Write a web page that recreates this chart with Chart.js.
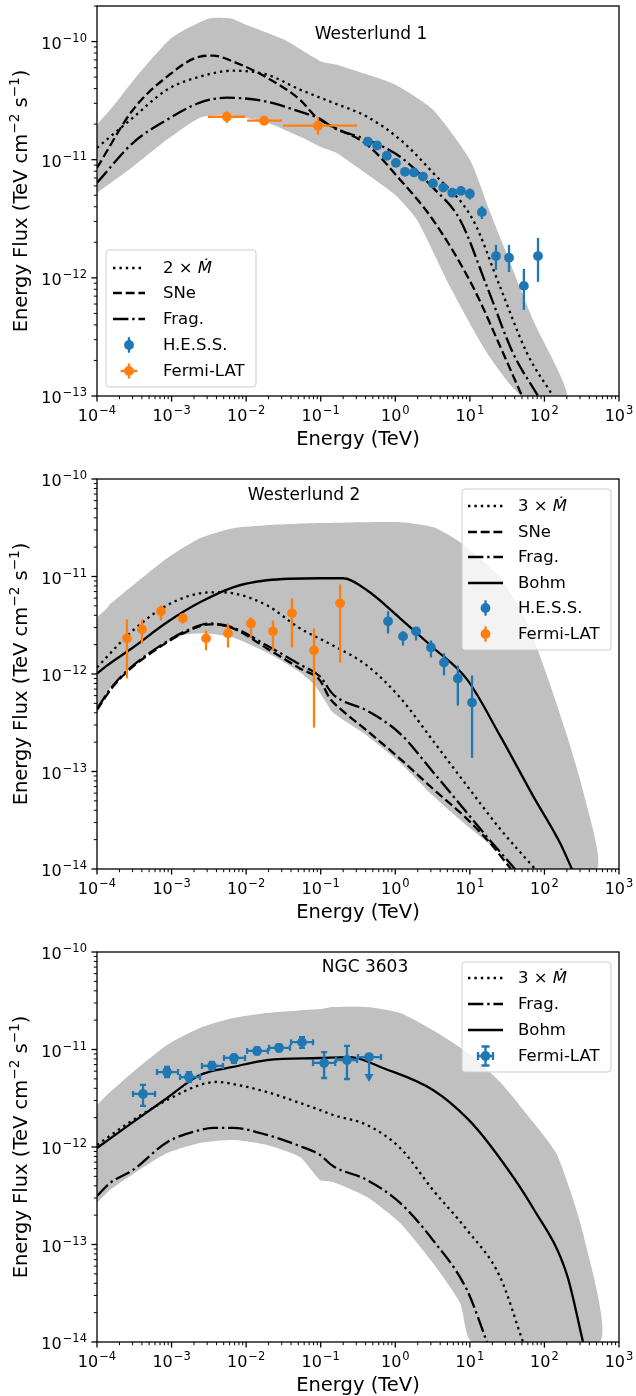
<!DOCTYPE html>
<html>
<head>
<meta charset="utf-8">
<title>Cluster gamma-ray spectra</title>
<script src="https://cdn.jsdelivr.net/npm/chart.js@4.4.1/dist/chart.umd.min.js"></script>
<style>
  html, body { margin: 0; padding: 0; background: #fff; }
  .panel { position: absolute; left: 0; }
</style>
</head>
<body>
<canvas id="wd1" class="panel" width="636" height="473" style="top:0"></canvas>
<canvas id="wd2" class="panel" width="636" height="493" style="top:453px"></canvas>
<canvas id="ngc" class="panel" width="636" height="470" style="top:926px"></canvas>
<script>
// ---------- tick labels (exponents of the decades) and texts ----------
const xTickExp = [-4, -3, -2, -1, 0, 1, 2, 3];
const wd1YTickExp = [-13, -12, -11, -10];
const wd2YTickExp = [-14, -13, -12, -11, -10];
const ngcYTickExp = [-14, -13, -12, -11, -10];

const panelTitles = ['Westerlund 1', 'Westerlund 2', 'NGC 3603'];
const xTitle = 'Energy (TeV)';
const wd1Legend = ['2 \u00d7 \u1e40', 'SNe', 'Frag.', 'H.E.S.S.', 'Fermi-LAT'];
const wd2Legend = ['3 \u00d7 \u1e40', 'SNe', 'Frag.', 'Bohm', 'H.E.S.S.', 'Fermi-LAT'];
const ngcLegend = ['3 \u00d7 \u1e40', 'Frag.', 'Bohm', 'Fermi-LAT'];

// ---------- Westerlund 1 ----------
const wd1BandUpperE = [1e-4, 1.59e-4, 3.13e-4, 1.01e-3, 3.18e-3, 6.27e-3, 9.96e-3, 3.22e-2, 0.101, 0.160, 0.316, 0.99, 3.2, 10, 18.6, 29.6, 70.3, 201];
const wd1BandUpperF = [1.98e-11, 2.76e-11, 4.76e-11, 1.08e-10, 1.57e-10, 1.57e-10, 1.39e-10, 1.04e-10, 6.78e-11, 6.38e-11, 5.57e-11, 4.33e-11, 2.65e-11, 1.0e-11, 3.62e-12, 1.73e-12, 4.4e-13, 1e-13];
const wd1BandLowerE = [1e-4, 3.04e-4, 8.7e-4, 2.4e-3, 5.5e-3, 1.9e-2, 5.27e-2, 9.8e-2, 0.160, 0.316, 0.99, 1.95, 5.42, 17.0, 50];
const wd1BandLowerF = [5.25e-12, 8.73e-12, 1.48e-11, 2.27e-11, 2.4e-11, 2.06e-11, 1.57e-11, 1.29e-11, 1.15e-11, 8.55e-12, 5.05e-12, 3.1e-12, 8.4e-13, 2.31e-13, 1e-13];

const wd1DottedE = [1e-4, 3.04e-4, 8.7e-4, 2.4e-3, 6.67e-3, 1.9e-2, 5.27e-2, 0.146, 0.418, 1.16, 3.2, 11.0, 25.4, 58.3, 130];
const wd1DottedF = [1.26e-11, 2.27e-11, 3.92e-11, 5.05e-11, 5.67e-11, 5.25e-11, 3.92e-11, 3.04e-11, 2.31e-11, 1.48e-11, 7.76e-12, 3.1e-12, 8.4e-13, 2.31e-13, 1e-13];
const wd1DashedE = [1e-4, 3.04e-4, 8.7e-4, 2.4e-3, 3.6e-3, 6.67e-3, 1.9e-2, 5.27e-2, 8.9e-2, 0.146, 0.418, 1.16, 3.2, 11.0, 27.9, 50];
const wd1DashedF = [8.55e-12, 2.65e-11, 5.05e-11, 7.46e-11, 7.6e-11, 6.78e-11, 4.95e-11, 3.22e-11, 2.27e-11, 1.9e-11, 1.34e-11, 6.78e-12, 3.1e-12, 8.4e-13, 2.31e-13, 1e-13];
const wd1DashDotE = [1e-4, 3.04e-4, 8.7e-4, 2.4e-3, 5.5e-3, 1.9e-2, 5.27e-2, 9.8e-2, 0.146, 0.418, 1.16, 3.2, 7.38, 17.0, 37.9, 82];
const wd1DashDotF = [6.38e-12, 1.39e-11, 2.18e-11, 3.04e-11, 3.35e-11, 3.1e-11, 2.55e-11, 2.22e-11, 1.87e-11, 1.48e-11, 1.06e-11, 5.8e-12, 3.1e-12, 8.4e-13, 2.31e-13, 1e-13];

const wd1HessE = [0.43, 0.57, 0.77, 1.02, 1.35, 1.78, 2.35, 3.2, 4.4, 5.8, 7.6, 10.0, 14.5, 22.4, 33.5, 53, 82];
const wd1HessF = [1.42e-11, 1.32e-11, 1.08e-11, 9.4e-12, 7.9e-12, 7.8e-12, 7.2e-12, 6.3e-12, 5.8e-12, 5.25e-12, 5.45e-12, 5.15e-12, 3.6e-12, 1.53e-12, 1.48e-12, 8.55e-13, 1.53e-12];
const wd1HessFLo = [1.36e-11, 1.27e-11, 1.04e-11, 9.0e-12, 7.55e-12, 7.4e-12, 6.8e-12, 5.9e-12, 5.4e-12, 4.85e-12, 5.0e-12, 4.6e-12, 3.15e-12, 1.17e-12, 1.12e-12, 5.36e-13, 9.25e-13];
const wd1HessFHi = [1.48e-11, 1.37e-11, 1.12e-11, 9.8e-12, 8.25e-12, 8.2e-12, 7.6e-12, 6.7e-12, 6.2e-12, 5.65e-12, 5.9e-12, 5.7e-12, 4.05e-12, 1.9e-12, 1.9e-12, 1.19e-12, 2.18e-12];

const wd1FermiE = [5.5e-3, 0.0174, 0.092];
const wd1FermiELo = [3.08e-3, 0.0103, 0.0312];
const wd1FermiEHi = [9.66e-3, 0.0303, 0.307];
const wd1FermiF = [2.31e-11, 2.14e-11, 1.94e-11];
const wd1FermiFLo = [2.05e-11, 1.95e-11, 1.63e-11];
const wd1FermiFHi = [2.55e-11, 2.35e-11, 2.27e-11];

// ---------- Westerlund 2 ----------
const wd2BandUpperE = [1e-4, 1.36e-4, 1.49e-4, 3.04e-4, 8.7e-4, 2.4e-3, 6.67e-3, 1.9e-2, 9.8e-2, 1.16, 3.2, 7.38, 25.4, 58.3, 108, 201, 329, 507];
const wd2BandUpperF = [3.81e-12, 4.72e-12, 5.19e-12, 8.13e-12, 1.54e-11, 2.47e-11, 3.13e-11, 3.36e-11, 3.53e-11, 3.61e-11, 3.21e-11, 2.25e-11, 9.82e-12, 3.39e-12, 9.66e-13, 2.33e-13, 6.34e-14, 1e-14];
const wd2BandLowerE = [1e-4, 1.64e-4, 5.14e-4, 1.42e-3, 3.0e-3, 6.67e-3, 1.9e-2, 5.27e-2, 8.38e-2, 0.114, 0.146, 0.418, 1.16, 3.2, 9.16, 25.4, 37.9];
const wd2BandLowerF = [3.84e-13, 7.98e-13, 1.66e-12, 2.49e-12, 2.61e-12, 2.37e-12, 1.66e-12, 1.04e-12, 7.62e-13, 5.34e-13, 4.02e-13, 2.33e-13, 1.23e-13, 5.63e-14, 2.77e-14, 1.46e-14, 1e-14];

const wd2DottedE = [1e-4, 3.04e-4, 8.7e-4, 2.4e-3, 4.06e-3, 6.67e-3, 1.9e-2, 5.27e-2, 0.146, 0.418, 1.16, 3.2, 9.16, 25.4, 74.8];
const wd2DottedF = [1.17e-12, 2.8e-12, 5.06e-12, 6.73e-12, 6.89e-12, 6.73e-12, 5.06e-12, 2.94e-12, 1.96e-12, 1.22e-12, 5.73e-13, 2.07e-13, 7.13e-14, 2.58e-14, 1e-14];
const wd2DashedE = [1e-4, 1.64e-4, 3.04e-4, 8.7e-4, 1.42e-3, 3.27e-3, 6.67e-3, 1.9e-2, 5.27e-2, 9.8e-2, 0.133, 0.182, 0.418, 1.16, 3.2, 9.16, 18.6, 35.6];
const wd2DashedF = [4.31e-13, 7.43e-13, 1.19e-12, 2.11e-12, 2.61e-12, 3.23e-12, 2.94e-12, 1.83e-12, 1.14e-12, 8.57e-13, 5.6e-13, 4.42e-13, 2.62e-13, 1.35e-13, 6.65e-14, 3.27e-14, 1.85e-14, 1e-14];
const wd2DashDotE = [1e-4, 1.64e-4, 3.04e-4, 8.7e-4, 1.42e-3, 3.27e-3, 6.67e-3, 1.9e-2, 5.27e-2, 9.8e-2, 0.146, 0.418, 1.16, 3.2, 9.16, 17.0, 40.3];
const wd2DashDotF = [4.42e-13, 7.62e-13, 1.22e-12, 2.16e-12, 2.67e-12, 3.3e-12, 3.0e-12, 1.96e-12, 1.25e-12, 9.42e-13, 6.2e-13, 4.21e-13, 2.45e-13, 9.9e-14, 3.77e-14, 2.13e-14, 1e-14];
const wd2SolidE = [1e-4, 1.36e-4, 3.04e-4, 8.7e-4, 2.4e-3, 6.67e-3, 1.9e-2, 9.8e-2, 0.199, 0.418, 1.16, 3.2, 9.16, 25.4, 70.3, 162, 234];
const wd2SolidF = [1.01e-12, 1.22e-12, 1.87e-12, 3.39e-12, 5.43e-12, 7.75e-12, 9.15e-12, 9.6e-12, 9.6e-12, 7.22e-12, 3.73e-12, 1.87e-12, 8.8e-13, 2.33e-13, 5.63e-14, 1.85e-14, 1e-14];

const wd2HessE = [0.80, 1.27, 1.90, 3.01, 4.5, 6.9, 10.7];
const wd2HessF = [3.47e-12, 2.43e-12, 2.74e-12, 1.87e-12, 1.31e-12, 9.0e-13, 5.09e-13];
const wd2HessFLo = [2.6e-12, 1.96e-12, 2.21e-12, 1.48e-12, 9.66e-13, 4.74e-13, 1.38e-13];
const wd2HessFHi = [4.4e-12, 2.74e-12, 3.0e-12, 2.21e-12, 1.63e-12, 1.22e-12, 9.66e-13];

const wd2FermiE = [2.52e-4, 4.01e-4, 7.21e-4, 1.42e-3, 2.9e-3, 5.71e-3, 0.0116, 0.0229, 0.0412, 0.0813, 0.182];
const wd2FermiF = [2.32e-12, 2.87e-12, 4.4e-12, 3.73e-12, 2.32e-12, 2.61e-12, 3.3e-12, 2.74e-12, 4.19e-12, 1.75e-12, 5.31e-12];
const wd2FermiFLo = [9.0e-13, 2.06e-12, 3.55e-12, 3.3e-12, 1.75e-12, 1.87e-12, 2.37e-12, 1.75e-12, 1.87e-12, 2.82e-13, 1.31e-12];
const wd2FermiFHi = [3.63e-12, 3.63e-12, 5.06e-12, 4.19e-12, 2.8e-12, 3.3e-12, 3.81e-12, 3.55e-12, 5.97e-12, 2.94e-12, 8.32e-12];

// ---------- NGC 3603 ----------
const ngcBandUpperE = [1e-4, 1.36e-4, 3.04e-4, 8.7e-4, 2.4e-3, 6.67e-3, 1.9e-2, 9.8e-2, 0.146, 0.418, 1.16, 3.2, 9.16, 25.4, 70.3, 148, 329, 556];
const ngcBandUpperF = [2.7e-12, 3.41e-12, 5.87e-12, 1.11e-11, 1.66e-11, 2.1e-11, 2.37e-11, 2.6e-11, 2.73e-11, 2.73e-11, 2.37e-11, 1.58e-11, 9.42e-12, 4.65e-12, 1.8e-12, 8.28e-13, 1.31e-13, 1e-14];
const ngcBandLowerE = [1e-4, 1.49e-4, 3.04e-4, 5.14e-4, 8.7e-4, 2.4e-3, 6.67e-3, 1.9e-2, 5.27e-2, 9.8e-2, 0.146, 0.418, 1.16, 3.2, 7.38, 10.7];
const ngcBandLowerF = [2.67e-13, 3.62e-13, 5.28e-13, 6.85e-13, 8.67e-13, 1.1e-12, 1.18e-12, 1.05e-12, 7.89e-13, 4.59e-13, 4.38e-13, 3.07e-13, 1.66e-13, 6.45e-14, 2.51e-14, 1e-14];

const ngcDottedE = [1e-4, 3.04e-4, 8.7e-4, 2.4e-3, 4.06e-3, 6.67e-3, 1.9e-2, 5.27e-2, 9.8e-2, 0.146, 0.418, 1.16, 3.2, 9.16, 25.4, 51.6];
const ngcDottedF = [1.05e-12, 1.89e-12, 3.03e-12, 4.33e-12, 4.65e-12, 4.43e-12, 3.66e-12, 2.83e-12, 2.39e-12, 2.13e-12, 1.68e-12, 9.77e-13, 3.62e-13, 1.41e-13, 4.65e-14, 1e-14];
const ngcDashDotE = [1e-4, 1.49e-4, 3.04e-4, 8.7e-4, 2.4e-3, 3.6e-3, 6.67e-3, 1.9e-2, 5.27e-2, 9.8e-2, 0.146, 0.418, 1.16, 3.2, 9.16, 17.0];
const ngcDashDotF = [3.14e-13, 4.27e-13, 5.81e-13, 1.12e-12, 1.49e-12, 1.57e-12, 1.57e-12, 1.33e-12, 1.02e-12, 8.28e-13, 6.38e-13, 4.59e-13, 2.67e-13, 1.11e-13, 3.41e-14, 1e-14];
const ngcSolidE = [1e-4, 3.04e-4, 8.7e-4, 2.4e-3, 6.67e-3, 1.9e-2, 9.8e-2, 0.247, 0.684, 3.2, 9.16, 18.6, 70.3, 201, 329];
const ngcSolidF = [9.77e-13, 1.8e-12, 3.18e-12, 5.47e-12, 6.62e-12, 7.8e-12, 8.18e-12, 8.37e-12, 6.46e-12, 3.85e-12, 1.98e-12, 1.05e-12, 2.37e-13, 4.86e-14, 1e-14];

const ngcFermiE = [4.14e-4, 8.69e-4, 1.71e-3, 3.48e-3, 6.87e-3, 0.0140, 0.0276, 0.0561, 0.111, 0.225, 0.445];
const ngcFermiELo = [3.04e-4, 6.38e-4, 1.30e-3, 2.56e-3, 5.05e-3, 0.0103, 0.0203, 0.040, 0.0789, 0.160, 0.316];
const ngcFermiEHi = [6.0e-4, 1.22e-3, 2.41e-3, 4.89e-3, 9.66e-3, 0.0196, 0.0387, 0.0789, 0.156, 0.307, 0.643];
const ngcFermiF = [3.5e-12, 5.87e-12, 5.22e-12, 6.78e-12, 8.19e-12, 9.66e-12, 1.04e-11, 1.19e-11, 7.28e-12, 7.8e-12, 8.37e-12];
const ngcFermiFLo = [2.64e-12, 5.22e-12, 4.65e-12, 6.17e-12, 7.28e-12, 8.9e-12, 9.6e-12, 1.04e-11, 5.1e-12, 4.98e-12, 4.65e-12];
const ngcFermiFHi = [4.33e-12, 6.62e-12, 5.87e-12, 7.45e-12, 8.79e-12, 1.05e-11, 1.13e-11, 1.34e-11, 9.42e-12, 1.09e-11, null];
const ngcFermiUpperLimit = [false, false, false, false, false, false, false, false, false, false, true];

// ---------- styles ----------
const BLUE = '#1f77b4';
const ORANGE = '#ff7f0e';
const BAND = '#c0c0c0';
const LW = 2.3;
const DOTTED = [2.4, 4];
const DASHED = [8.9, 3.8];
const DASHDOT = [15.4, 3.8, 2.4, 3.8];
const SOLID = [];
const FONT = '"DejaVu Sans", sans-serif';
const PLOT_H = 390;

function xy(E, F) {
  return E.map((e, i) => ({ x: e, y: F[i] }));
}

function band(uE, uF, lE, lF) {
  // closed outline: upper edge left to right, then lower edge back
  return {
    data: xy(uE, uF).concat(xy(lE, lF).reverse()),
    borderWidth: 0,
    borderColor: 'rgba(0,0,0,0)',
    backgroundColor: BAND,
    fill: 'shape',
    pointRadius: 0,
    tension: 0.2,
    order: 3
  };
}

function curve(E, F, dash) {
  return {
    data: xy(E, F),
    borderColor: '#000',
    borderWidth: LW,
    borderDash: dash,
    pointRadius: 0,
    fill: false,
    cubicInterpolationMode: 'monotone',
    order: 2
  };
}

function points(E, F, color, err) {
  return {
    data: xy(E, F),
    showLine: false,
    pointRadius: 4.9,
    pointHoverRadius: 4.9,
    pointBackgroundColor: color,
    pointBorderColor: color,
    pointBorderWidth: 0,
    order: 1,
    err: Object.assign({ color: color }, err)
  };
}

// error bars drawn just before the markers of their dataset
const errorBars = {
  id: 'errorBars',
  beforeDatasetDraw(chart, args) {
    const ds = chart.data.datasets[args.index];
    if (!ds.err) return;
    const e = ds.err;
    const { ctx, scales: { x, y } } = chart;
    ctx.save();
    ctx.strokeStyle = e.color;
    ctx.fillStyle = e.color;
    ctx.lineWidth = LW;
    ctx.setLineDash([]);
    const cap = e.cap || 0;
    ds.data.forEach((p, i) => {
      const px = x.getPixelForValue(p.x);
      const py = y.getPixelForValue(p.y);
      ctx.beginPath();
      if (e.xLo) {
        const a = x.getPixelForValue(e.xLo[i]), b = x.getPixelForValue(e.xHi[i]);
        ctx.moveTo(a, py); ctx.lineTo(b, py);
        if (cap) {
          ctx.moveTo(a, py - cap); ctx.lineTo(a, py + cap);
          ctx.moveTo(b, py - cap); ctx.lineTo(b, py + cap);
        }
      }
      if (e.ul && e.ul[i]) {
        const tip = y.getPixelForValue(e.yLo[i]);
        ctx.moveTo(px, py); ctx.lineTo(px, tip - 4);
        ctx.stroke();
        ctx.beginPath();
        ctx.moveTo(px - 4.5, tip - 8); ctx.lineTo(px + 4.5, tip - 8); ctx.lineTo(px, tip);
        ctx.closePath(); ctx.fill();
        return;
      }
      if (e.yLo && e.yLo[i] != null) {
        const a = y.getPixelForValue(e.yLo[i]), b = y.getPixelForValue(e.yHi[i]);
        ctx.moveTo(px, a); ctx.lineTo(px, b);
        if (cap) {
          ctx.moveTo(px - cap, a); ctx.lineTo(px + cap, a);
          ctx.moveTo(px - cap, b); ctx.lineTo(px + cap, b);
        }
      }
      ctx.stroke();
    });
    ctx.restore();
  }
};

function drawPow10(ctx, exp, x, y, align) {
  const base = '10';
  const sup = (exp < 0 ? '\u2212' : '') + Math.abs(exp);
  ctx.font = '16px ' + FONT;
  const wb = ctx.measureText(base).width;
  ctx.font = '11.5px ' + FONT;
  const ws = ctx.measureText(sup).width;
  const w = wb + ws + 1;
  const x0 = align === 'center' ? x - w / 2 : x - w;
  ctx.textAlign = 'left';
  ctx.textBaseline = 'alphabetic';
  ctx.font = '16px ' + FONT;
  ctx.fillText(base, x0, y);
  ctx.font = '11.5px ' + FONT;
  ctx.fillText(sup, x0 + wb + 1, y - 7);
}

function drawAxes(chart, yTickExp) {
  const { ctx, chartArea: a, scales: { x, y } } = chart;
  ctx.save();
  ctx.strokeStyle = '#000';
  ctx.fillStyle = '#000';
  ctx.setLineDash([]);
  // x ticks (major + minor, pointing out)
  for (let k = -4; k <= 2; k++) {
    for (let m = 1; m <= 9; m++) {
      const px = x.getPixelForValue(m * Number('1e' + k));
      ctx.lineWidth = m === 1 ? 1.3 : 1;
      ctx.beginPath(); ctx.moveTo(px, a.bottom); ctx.lineTo(px, a.bottom + (m === 1 ? 5.6 : 3.2)); ctx.stroke();
    }
  }
  ctx.lineWidth = 1.3;
  ctx.beginPath(); ctx.moveTo(a.right, a.bottom); ctx.lineTo(a.right, a.bottom + 5.6); ctx.stroke();
  // y ticks
  for (let k = -15; k <= -9; k++) {
    for (let m = 1; m <= 9; m++) {
      const v = m * Number('1e' + k);
      if (v < y.min * 0.999 || v > y.max * 1.001) continue;
      const py = y.getPixelForValue(v);
      ctx.lineWidth = m === 1 ? 1.3 : 1;
      ctx.beginPath(); ctx.moveTo(a.left, py); ctx.lineTo(a.left - (m === 1 ? 5.6 : 3.2), py); ctx.stroke();
    }
  }
  // frame
  ctx.lineWidth = 1.3;
  ctx.strokeRect(a.left, a.top, a.right - a.left, a.bottom - a.top);
  // tick labels
  xTickExp.forEach(k => drawPow10(ctx, k, x.getPixelForValue(Number('1e' + k)), a.bottom + 25, 'center'));
  yTickExp.forEach(k => drawPow10(ctx, k, a.left - 10, y.getPixelForValue(Number('1e' + k)) + 7, 'right'));
  // axis titles
  ctx.font = '19.5px ' + FONT;
  ctx.textAlign = 'center';
  ctx.fillText(xTitle, (a.left + a.right) / 2, a.bottom + 49);
  drawYTitle(ctx, 27, (a.top + a.bottom) / 2);
  ctx.restore();
}

function drawYTitle(ctx, bx, cy) {
  const parts = [['Energy Flux (TeV cm', false], ['\u22122', true], [' s', false], ['\u22121', true], [')', false]];
  const fontFor = s => (s ? '13.6px ' : '19.5px ') + FONT;
  let total = 0;
  parts.forEach(p => { ctx.font = fontFor(p[1]); total += ctx.measureText(p[0]).width; });
  ctx.save();
  ctx.translate(bx, cy);
  ctx.rotate(-Math.PI / 2);
  ctx.textAlign = 'left';
  ctx.textBaseline = 'alphabetic';
  let cx = -total / 2;
  parts.forEach(p => {
    ctx.font = fontFor(p[1]);
    ctx.fillText(p[0], cx, p[1] ? -8 : 0);
    cx += ctx.measureText(p[0]).width;
  });
  ctx.restore();
}

function drawLabel(ctx, text, x, y) {
  const i = text.indexOf('\u1e40');
  ctx.textAlign = 'left';
  ctx.textBaseline = 'middle';
  ctx.font = '16.5px ' + FONT;
  if (i < 0) { ctx.fillText(text, x, y); return; }
  const pre = text.slice(0, i);
  ctx.fillText(pre, x, y);
  const w = ctx.measureText(pre).width;
  ctx.font = 'italic 16.5px ' + FONT;
  ctx.fillText('\u1e40', x + w, y);
}

function drawLegend(ctx, lg, dy) {
  const [bx, by, bw, bh] = lg.box;
  ctx.save();
  ctx.translate(0, dy);
  ctx.beginPath();
  ctx.roundRect(bx, by, bw, bh, 3);
  ctx.fillStyle = 'rgba(255,255,255,0.8)';
  ctx.fill();
  ctx.strokeStyle = '#cccccc';
  ctx.lineWidth = 1;
  ctx.stroke();
  lg.labels.forEach((label, i) => {
    const h = lg.handles[i];
    const ry = lg.rowsY[i];
    ctx.setLineDash([]);
    if (h.dash) {
      ctx.strokeStyle = '#000';
      ctx.lineWidth = LW;
      ctx.setLineDash(h.dash);
      ctx.beginPath(); ctx.moveTo(lg.lineX[0], ry); ctx.lineTo(lg.lineX[1], ry); ctx.stroke();
      ctx.setLineDash([]);
    } else {
      const mx = (lg.lineX[0] + lg.lineX[1]) / 2;
      ctx.strokeStyle = h.color;
      ctx.fillStyle = h.color;
      ctx.lineWidth = LW;
      ctx.beginPath();
      ctx.moveTo(mx, ry - h.yBar); ctx.lineTo(mx, ry + h.yBar);
      if (h.xBar) { ctx.moveTo(mx - h.xBar, ry); ctx.lineTo(mx + h.xBar, ry); }
      if (h.cap) {
        ctx.moveTo(mx - h.cap, ry - h.yBar); ctx.lineTo(mx + h.cap, ry - h.yBar);
        ctx.moveTo(mx - h.cap, ry + h.yBar); ctx.lineTo(mx + h.cap, ry + h.yBar);
        ctx.moveTo(mx - h.xBar, ry - h.cap); ctx.lineTo(mx - h.xBar, ry + h.cap);
        ctx.moveTo(mx + h.xBar, ry - h.cap); ctx.lineTo(mx + h.xBar, ry + h.cap);
      }
      ctx.stroke();
      ctx.beginPath(); ctx.arc(mx, ry, 4.9, 0, Math.PI * 2); ctx.fill();
    }
    ctx.fillStyle = '#000';
    drawLabel(ctx, label, lg.textX, ry + 1);
  });
  ctx.restore();
}

// p.top: distance of the plot frame from the canvas top
function makePanel(id, datasets, p) {
  const canvas = document.getElementById(id);
  const H = canvas.height;
  const decor = {
    id: 'decor',
    afterDatasetsDraw(chart) {
      drawAxes(chart, p.yTickExp);
      const ctx = chart.ctx;
      ctx.save();
      ctx.fillStyle = '#000';
      ctx.font = '17px ' + FONT;
      ctx.textAlign = 'center';
      ctx.textBaseline = 'middle';
      ctx.fillText(p.title, p.titleXY[0], p.titleXY[1] + p.top - 6);
      ctx.restore();
    },
    afterDraw(chart) {
      drawLegend(chart.ctx, p.legend, p.top - 6);
    }
  };
  return new Chart(canvas, {
    type: 'line',
    data: { datasets: datasets },
    options: {
      responsive: false,
      animation: false,
      devicePixelRatio: 1,
      layout: { padding: { left: 97, right: 17, top: p.top, bottom: H - p.top - PLOT_H } },
      scales: {
        x: { type: 'logarithmic', min: 1e-4, max: 1e3, display: false },
        y: { type: 'logarithmic', min: p.yMin, max: p.yMax, display: false }
      },
      plugins: { legend: { display: false }, tooltip: { enabled: false } },
      events: []
    },
    plugins: [errorBars, decor]
  });
}

const lineHandle = d => ({ dash: d });

makePanel('wd1', [
  band(wd1BandUpperE, wd1BandUpperF, wd1BandLowerE, wd1BandLowerF),
  curve(wd1DottedE, wd1DottedF, DOTTED),
  curve(wd1DashedE, wd1DashedF, DASHED),
  curve(wd1DashDotE, wd1DashDotF, DASHDOT),
  points(wd1HessE, wd1HessF, BLUE, { yLo: wd1HessFLo, yHi: wd1HessFHi }),
  points(wd1FermiE, wd1FermiF, ORANGE, { xLo: wd1FermiELo, xHi: wd1FermiEHi, yLo: wd1FermiFLo, yHi: wd1FermiFHi })
], {
  top: 6, yMin: 1e-13, yMax: 2e-10, yTickExp: wd1YTickExp,
  title: panelTitles[0], titleXY: [371, 35],
  legend: {
    box: [106, 250, 150, 137], rowsY: [268, 293, 319, 345, 371], lineX: [113, 145], textX: 163,
    labels: wd1Legend,
    handles: [lineHandle(DOTTED), lineHandle(DASHED), lineHandle(DASHDOT),
      { color: BLUE, yBar: 7.7 }, { color: ORANGE, yBar: 7.5, xBar: 8.3 }]
  }
});

makePanel('wd2', [
  band(wd2BandUpperE, wd2BandUpperF, wd2BandLowerE, wd2BandLowerF),
  curve(wd2DottedE, wd2DottedF, DOTTED),
  curve(wd2DashedE, wd2DashedF, DASHED),
  curve(wd2DashDotE, wd2DashDotF, DASHDOT),
  curve(wd2SolidE, wd2SolidF, SOLID),
  points(wd2HessE, wd2HessF, BLUE, { yLo: wd2HessFLo, yHi: wd2HessFHi }),
  points(wd2FermiE, wd2FermiF, ORANGE, { yLo: wd2FermiFLo, yHi: wd2FermiFHi })
], {
  top: 26, yMin: 1e-14, yMax: 1e-10, yTickExp: wd2YTickExp,
  title: panelTitles[1], titleXY: [304, 23],
  legend: {
    box: [462, 16, 149, 161], rowsY: [33, 59, 84, 110, 135, 161], lineX: [468, 503], textX: 518,
    labels: wd2Legend,
    handles: [lineHandle(DOTTED), lineHandle(DASHED), lineHandle(DASHDOT), lineHandle(SOLID),
      { color: BLUE, yBar: 7.7 }, { color: ORANGE, yBar: 7.7 }]
  }
});

makePanel('ngc', [
  band(ngcBandUpperE, ngcBandUpperF, ngcBandLowerE, ngcBandLowerF),
  curve(ngcDottedE, ngcDottedF, DOTTED),
  curve(ngcDashDotE, ngcDashDotF, DASHDOT),
  curve(ngcSolidE, ngcSolidF, SOLID),
  points(ngcFermiE, ngcFermiF, BLUE, { xLo: ngcFermiELo, xHi: ngcFermiEHi, yLo: ngcFermiFLo, yHi: ngcFermiFHi, ul: ngcFermiUpperLimit, cap: 3 })
], {
  top: 26, yMin: 1e-14, yMax: 1e-10, yTickExp: ngcYTickExp,
  title: panelTitles[2], titleXY: [365, 22],
  legend: {
    box: [462, 16, 149, 110], rowsY: [32, 58, 84, 110], lineX: [468, 503], textX: 518,
    labels: ngcLegend,
    handles: [lineHandle(DOTTED), lineHandle(DASHDOT), lineHandle(SOLID),
      { color: BLUE, yBar: 9.5, xBar: 7.5, cap: 4 }]
  }
});
</script>
</body>
</html>
